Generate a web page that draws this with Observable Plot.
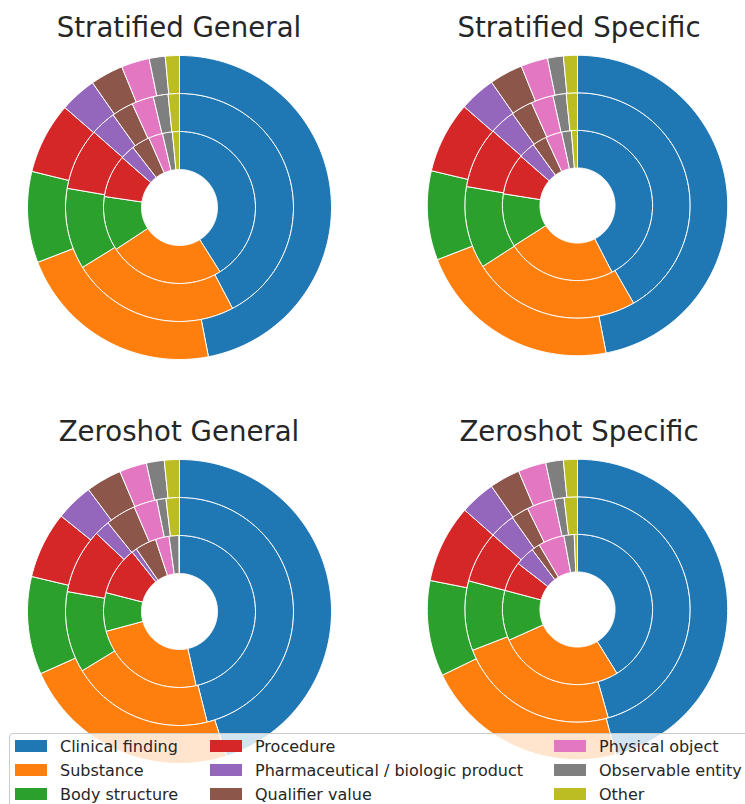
<!DOCTYPE html>
<html>
<head>
<meta charset="utf-8">
<script src="https://cdn.jsdelivr.net/npm/d3@7"></script>
<script src="https://cdn.jsdelivr.net/npm/@observablehq/plot@0.6"></script>
<style>
  html, body { margin: 0; padding: 0; background: #fff; }
  body { width: 745px; height: 804px; position: relative; overflow: hidden;
         font-family: "DejaVu Sans", sans-serif; color: #262626; }
  .panel { position: absolute; }
  .title { position: absolute; width: 340px; text-align: center; font-size: 27.6px;
           line-height: 27px; white-space: nowrap; }
  .legend { position: absolute; left: 9px; top: 733px; width: 800px; height: 100px;
            box-sizing: border-box; border: 1px solid #cccccc; border-radius: 4px;
            background: rgba(255,255,255,0.8); }
  .item { position: absolute; height: 24px; display: flex; align-items: center;
          font-size: 16px; white-space: nowrap; }
  .sw { width: 32px; height: 11.5px; margin-right: 13px; flex: none; }
</style>
</head>
<body>
<script>
const categories = ["Clinical finding", "Substance", "Body structure", "Procedure",
  "Pharmaceutical / biologic product", "Qualifier value", "Physical object",
  "Observable entity", "Other"];
const colors = ["#1f77b4", "#ff7f0e", "#2ca02c", "#d62728", "#9467bd",
  "#8c564b", "#e377c2", "#7f7f7f", "#bcbd22"];
const panelTitles = ["Stratified General", "Stratified Specific", "Zeroshot General", "Zeroshot Specific"];

// shares (%) per ring, in category order
const stratifiedGeneralInner  = [41.1, 24.7, 11.6, 9.1, 3.1, 3.9, 3.0, 2.1, 1.5];
const stratifiedGeneralMiddle = [42.3, 23.9, 11.5, 8.8, 3.6, 3.1, 3.1, 2.1, 1.6];
const stratifiedGeneralOuter  = [47.0, 22.2, 9.7, 7.6, 3.9, 3.5, 3.0, 1.7, 1.5];

const stratifiedSpecificInner  = [42.4, 23.6, 11.5, 8.9, 3.6, 3.1, 3.5, 2.1, 1.3];
const stratifiedSpecificMiddle = [41.7, 24.2, 11.8, 8.8, 3.7, 3.1, 3.2, 1.9, 1.6];
const stratifiedSpecificOuter  = [47.0, 22.2, 9.6, 7.7, 3.9, 3.6, 2.9, 1.7, 1.5];

const zeroshotGeneralInner  = [46.5, 24.3, 8.2, 10.3, 1.1, 4.5, 2.9, 2.1, 0.1];
const zeroshotGeneralMiddle = [46.1, 20.2, 11.5, 9.2, 2.2, 4.3, 3.3, 1.3, 1.9];
const zeroshotGeneralOuter  = [45.0, 23.3, 10.4, 7.1, 4.0, 3.8, 2.9, 1.9, 1.6];

const zeroshotSpecificInner  = [41.2, 27.1, 10.8, 6.4, 4.2, 1.8, 5.6, 2.2, 0.7];
const zeroshotSpecificMiddle = [45.6, 23.5, 10.0, 7.4, 3.7, 2.5, 4.0, 1.4, 1.9];
const zeroshotSpecificOuter  = [45.9, 21.9, 10.3, 8.4, 3.8, 3.3, 3.0, 1.9, 1.5];

const panels = [
  [stratifiedGeneralInner, stratifiedGeneralMiddle, stratifiedGeneralOuter],
  [stratifiedSpecificInner, stratifiedSpecificMiddle, stratifiedSpecificOuter],
  [zeroshotGeneralInner, zeroshotGeneralMiddle, zeroshotGeneralOuter],
  [zeroshotSpecificInner, zeroshotSpecificMiddle, zeroshotSpecificOuter]
];

// layout (page pixels)
const centers = [[179, 207], [579, 207], [179, 611], [579, 611]];
const HALF = 170, MARGIN = 18;

// build wedge outlines (unit-radius space, clockwise from 12 o'clock)
function wedgeRows(rings) {
  const rows = [];
  rings.forEach((vals, ri) => {
    const total = d3.sum(vals);
    const r0 = 0.25 + 0.25 * ri, r1 = r0 + 0.25;
    let a = 0;
    vals.forEach((v, ci) => {
      const a0 = a, a1 = a + v / total * 2 * Math.PI;
      a = a1;
      const n = Math.max(2, Math.ceil((a1 - a0) / (Math.PI / 180)));
      const key = ri + "-" + ci;
      const cat = categories[ci];
      for (let k = 0; k <= n; k++) {
        const t = a0 + (a1 - a0) * k / n;
        rows.push({key, cat, x: r1 * Math.sin(t), y: r1 * Math.cos(t)});
      }
      for (let k = n; k >= 0; k--) {
        const t = a0 + (a1 - a0) * k / n;
        rows.push({key, cat, x: r0 * Math.sin(t), y: r0 * Math.cos(t)});
      }
      rows.push({key, cat, x: r1 * Math.sin(a0), y: r1 * Math.cos(a0)});
    });
  });
  return rows;
}

panels.forEach((rings, i) => {
  const [cx, cy] = centers[i];
  const chart = Plot.plot({
    width: 2 * HALF,
    height: 2 * HALF,
    margin: MARGIN,
    style: {background: "transparent", overflow: "visible"},
    x: {domain: [-1, 1], axis: null},
    y: {domain: [-1, 1], axis: null},
    color: {domain: categories, range: colors},
    marks: [
      Plot.line(wedgeRows(rings), {
        x: "x", y: "y", z: "key", fill: "cat",
        stroke: "white", strokeWidth: 1, strokeLinejoin: "miter"
      })
    ]
  });
  const wrap = document.createElement("div");
  wrap.className = "panel";
  wrap.style.left = (cx - HALF) + "px";
  wrap.style.top = (cy - HALF) + "px";
  wrap.appendChild(chart);
  document.body.appendChild(wrap);

  const t = document.createElement("div");
  t.className = "title";
  t.textContent = panelTitles[i];
  t.style.left = (cx - HALF) + "px";
  t.style.top = (cy - 193.4) + "px";
  document.body.appendChild(t);
});

// legend (3 rows, column-major)
const legend = document.createElement("div");
legend.className = "legend";
const colLefts = [5, 200, 544];
categories.forEach((c, i) => {
  const col = Math.floor(i / 3), row = i % 3;
  const item = document.createElement("div");
  item.className = "item";
  item.style.left = colLefts[col] + "px";
  item.style.top = (0.2 + row * 24) + "px";
  const sw = document.createElement("div");
  sw.className = "sw";
  sw.style.background = colors[i];
  const label = document.createElement("span");
  label.textContent = c;
  item.appendChild(sw);
  item.appendChild(label);
  legend.appendChild(item);
});
document.body.appendChild(legend);
</script>
</body>
</html>
